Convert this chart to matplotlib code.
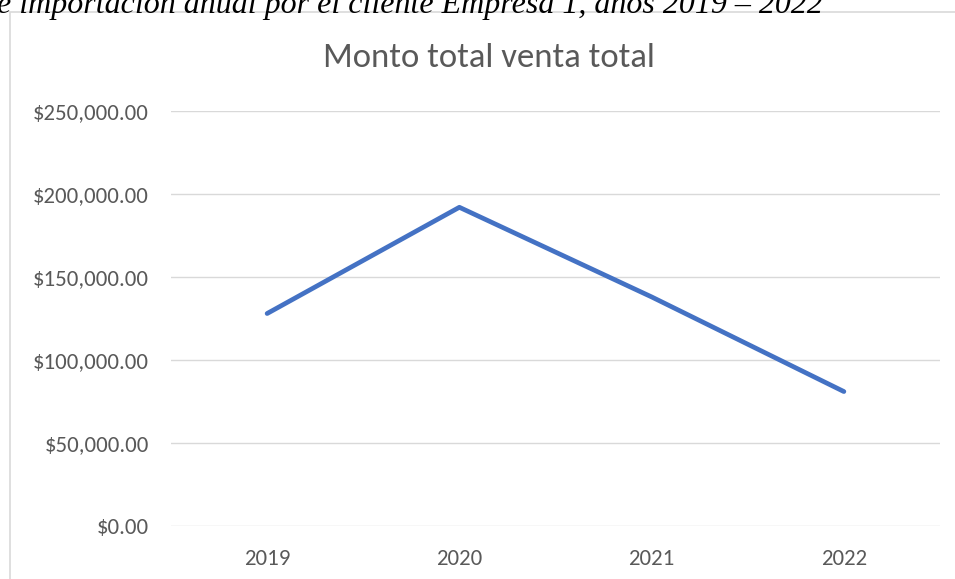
import matplotlib
matplotlib.use("Agg")
import matplotlib.pyplot as plt
from matplotlib.patches import Rectangle
from matplotlib.ticker import FuncFormatter

years = ["2019", "2020", "2021", "2022"]
ventas = [128000, 192000, 138000, 81000]
yticks = [0, 50000, 100000, 150000, 200000, 250000]
titulo = "Monto total venta total"
caption = "e importación anual por el cliente Empresa 1, años 2019 – 2022"

W, H = 955, 579
fig = plt.figure(figsize=(W / 100, H / 100), dpi=100)
font = ["Carlito", "Lato", "DejaVu Sans"]
gray = "#595959"

# outer chart frame
fig.patches.append(Rectangle((9.5 / W, -0.1), 1.2, (H - 12) / H + 0.1,
                             transform=fig.transFigure, fill=False,
                             edgecolor="#D9D9D9", linewidth=1.2))

# cropped caption at top
fig.text(-3 / W, 1 - 12.5 / H, caption, ha="left", va="baseline",
         fontsize=23, style="italic", family="Liberation Serif", color="black")

left, right = 171 / W, 940 / W
bottom, top = (H - 526) / H, (H - 111) / H
ax = fig.add_axes([left, bottom, right - left, top - bottom])
x = list(range(len(years)))
ax.plot(x, ventas, color="#4472C4", linewidth=3.4, solid_capstyle="round",
        solid_joinstyle="round")
ax.set_xlim(-0.5, len(years) - 0.5)
ax.set_ylim(0, 250000)
ax.set_yticks(yticks)
ax.yaxis.set_major_formatter(FuncFormatter(lambda v, p: f"${v:,.2f}"))
ax.set_xticks(x)
ax.set_xticklabels(years)
ax.grid(axis="y", color="#D9D9D9", linewidth=1.0)
ax.set_axisbelow(True)
for s in ax.spines.values():
    s.set_visible(False)
ax.tick_params(length=0, labelsize=16.5, labelcolor=gray)
ax.tick_params(axis="y", pad=16)
ax.tick_params(axis="x", pad=16.5)
for lab in ax.get_xticklabels() + ax.get_yticklabels():
    lab.set_family(font)

fig.text(489 / W, 1 - 58 / H, titulo, ha="center", va="center",
         fontsize=25, color=gray, family=font)

fig.savefig("out.png", dpi=100)
